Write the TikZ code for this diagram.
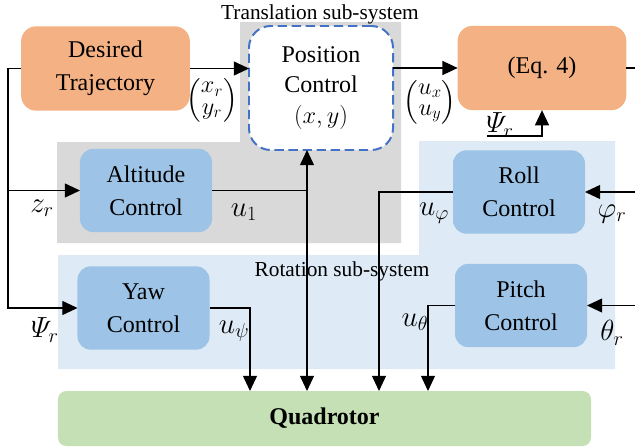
\documentclass[tikz,border=0pt]{standalone}
\usepackage{amsmath}
\usepackage{fontspec}
\setmainfont{Liberation Serif}
\usepackage{tikz}
\usetikzlibrary{positioning}
\usetikzlibrary{arrows.meta}
\usetikzlibrary{calc}
\definecolor{trajorange}{HTML}{F4B183}
\definecolor{ctrlblue}{HTML}{9DC3E6}
\definecolor{rotblue}{HTML}{DEEBF7}
\definecolor{transgray}{HTML}{D9D9D9}
\definecolor{plantgreen}{HTML}{C5E0B4}
\definecolor{dashblue}{HTML}{4472C4}
\tikzstyle{line} = [draw, line width=1pt, -{Triangle[length=13pt,width=12pt]}]
\tikzstyle{wire} = [draw, line width=1pt]

\begin{document}
\begin{tikzpicture}[x=0.03cm, y=-0.03cm,
        block/.style={align=center, inner sep=0pt, outer sep=0pt,
            font=\fontsize{20.5}{28}\selectfont},
        refbox/.style={block, fill=trajorange, rounded corners=0.45cm,
            minimum width=5.06cm, minimum height=2.53cm},
        ctrl/.style={block, fill=ctrlblue, rounded corners=0.4cm,
            minimum width=3.96cm, minimum height=2.5cm},
        sig/.style={inner sep=0pt, font=\fontsize{23}{26}\selectfont},
        vec/.style={inner sep=0pt, font=\fontsize{20}{15}\selectfont},
        area/.style={font=\fontsize{18.2}{20}\selectfont}]
        \useasboundingbox (0,0) rectangle (635,447);
        %% Sub-systems
        \fill [transgray] (240,22) -- (401,22) -- (401,243) -- (57,243)
            -- (57,142) -- (240,142) -- cycle;
        \fill [rotblue] (419,141) -- (615,141) -- (615,369) -- (58,369)
            -- (58,255) -- (419,255) -- cycle;
        \node [area] at (320,14) (trans) {Translation sub-system};
        \node [area] at (342,271) (rot) {Rotation sub-system};
        %% Blocks
        \node [refbox] at (105.5,68.5) (traj) {Desired\\Trajectory};
        \node [block, draw=dashblue, line width=1.7pt, dash pattern=on 8pt off 4pt,
            fill=white, rounded corners=0.65cm, minimum width=4.32cm,
            minimum height=3.72cm, font=\fontsize{20.5}{26}\selectfont]
            at (321,88) (pos) {Position\\Control\\$(x,y)$};
        \node [refbox] at (542,68) (eq) {(Eq. 4)};
        \node [ctrl] at (146,190.5) (alt) {Altitude\\Control};
        \node [ctrl] at (519,192) (roll) {Roll\\Control};
        \node [ctrl] at (143.5,308) (yaw) {Yaw\\Control};
        \node [ctrl] at (521,305.5) (pitch) {Pitch\\Control};
        \node [block, fill=plantgreen, rounded corners=0.25cm, minimum width=15.99cm,
            minimum height=1.65cm, font=\fontsize{20.5}{28}\selectfont\bfseries]
            at (324.5,418.5) (quad) {Quadrotor};
        %% Free ends
        \coordinate (lbus) at (8,68.5);
        \coordinate (ubus) at (307,190.5);
        \coordinate (eqout) at (635,68);
        \coordinate (psiin) at (487,136);
        \coordinate (phiin) at (635,192);
        \coordinate (thetain) at (635,305.5);
        \coordinate (qpsi) at (250,391);
        \coordinate (qphi) at (379,391);
        \coordinate (qtheta) at (428,391);
        %% Signals
        \path [line] (traj.east) -- (traj.east -| pos.west);
        \path [line] (eq.west -| pos.east) -- (eq.west);
        \path [wire] (eq.east) -- (eqout);
        \path [line] (psiin) -| (eq.south);
        \path [line] (traj.west) -- (lbus) |- (yaw.west);
        \path [line] (lbus |- alt.west) -- (alt.west);
        \path [wire] (alt.east) -- (ubus);
        \path [line] (ubus) -- (ubus |- pos.south);
        \path [line] (ubus) -- (ubus |- quad.north);
        \path [line] (yaw.east) -| (qpsi);
        \path [line] (roll.west) -| (qphi);
        \path [line] (pitch.west) -| (qtheta);
        \path [line] (phiin) -- (roll.east);
        \path [line] (thetain) -- (pitch.east);
        %% Labels
        \node [vec] at (212,100) (xyref) {$\begin{pmatrix}x_r\\[3pt]y_r\end{pmatrix}$};
        \node [vec] at (430,102) (uxy) {$\begin{pmatrix}u_x\\[3pt]u_y\end{pmatrix}$};
        \node [sig] at (500,125) (psitop) {$\varPsi_r$};
        \node [sig] at (42,208) (zr) {$z_r$};
        \node [sig] at (45,330) (psir) {$\varPsi_r$};
        \node [sig] at (244,212) (u1) {$u_1$};
        \node [sig] at (234,331) (upsi) {$u_\psi$};
        \node [sig] at (434,213) (uphi) {$u_\varphi$};
        \node [sig] at (612,214) (phir) {$\varphi_r$};
        \node [sig] at (415,322) (utheta) {$u_\theta$};
        \node [sig] at (612,333) (thetar) {$\theta_r$};
    \end{tikzpicture}
\end{document}
